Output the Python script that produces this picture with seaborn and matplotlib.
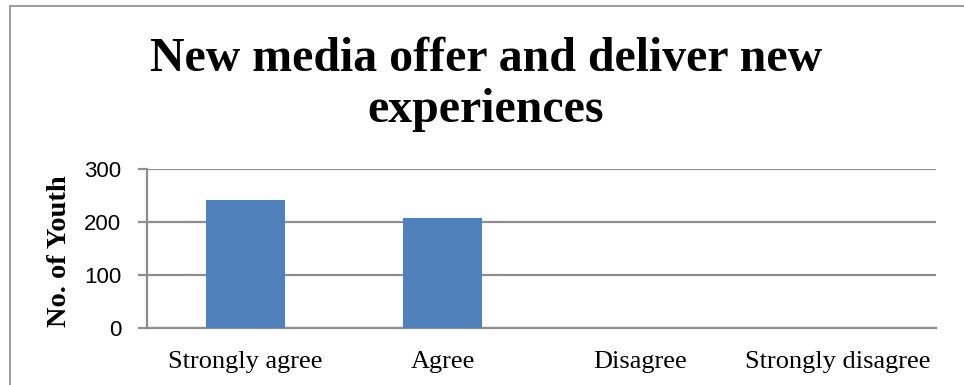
import matplotlib
matplotlib.use("Agg")
import matplotlib.pyplot as plt
from matplotlib.patches import Rectangle
import seaborn as sns
import pandas as pd

categories = ["Strongly agree", "Agree", "Disagree", "Strongly disagree"]
youth_counts = [242, 207, 0, 0]
y_ticks = [0, 100, 200, 300]

df = pd.DataFrame({"response": categories, "count": youth_counts})

sns.set_theme(style="white")
plt.rcParams["font.family"] = ["Liberation Serif", "DejaVu Serif"]

W, H = 964, 385
fig = plt.figure(figsize=(W / 100, H / 100), dpi=100)
ax = fig.add_axes([147 / W, 1 - 327.7 / H, (936 - 147) / W, (327.7 - 169.3) / H])

sns.barplot(data=df, x="response", y="count", color="#4F81BD", width=0.4,
            saturation=1, linewidth=0, ax=ax, zorder=3)

grid_col = "#8E8E8E"
ax.set_ylim(0, 300)
ax.set_xlim(-0.5, len(categories) - 0.5)
ax.set_yticks(y_ticks)
ax.yaxis.grid(True, color=grid_col, linewidth=1.6, zorder=0)
ax.set_axisbelow(True)

for side in ["top", "right"]:
    ax.spines[side].set_visible(False)
for side in ["left", "bottom"]:
    ax.spines[side].set_color(grid_col)
    ax.spines[side].set_linewidth(1.6)

ax.tick_params(axis="y", which="both", left=True, length=6.5, width=1.6,
               color=grid_col, pad=12)
ax.tick_params(axis="x", bottom=False, pad=10.5)
for lab in ax.get_yticklabels():
    lab.set_family(["Liberation Sans", "DejaVu Sans"])
    lab.set_fontsize(16)
    lab.set_color("black")
for lab in ax.get_xticklabels():
    lab.set_fontsize(19)
    lab.set_color("black")

ax.set_xlabel("")
ax.set_ylabel("No. of Youth", fontsize=20.5, fontweight="bold", color="black",
              va="center")
ax.yaxis.set_label_coords((60 - 147) / (936 - 147), 0.483)

# two-line chart title, each line placed on its own baseline
title_lines = ["New media offer and deliver new", "experiences"]
for line, base_px in zip(title_lines, [70.7, 122.3]):
    fig.text(486 / W, 1 - base_px / H, line, ha="center", va="baseline",
             fontsize=34.5, fontweight="bold", color="black")

# outer chart frame
fig.patches.append(Rectangle((10 / W, -0.1), 1.2, 1 - 6 / H + 0.1,
                             transform=fig.transFigure, fill=False,
                             edgecolor="#8A8A8A", linewidth=1.2))

fig.savefig("out.png", dpi=100)
